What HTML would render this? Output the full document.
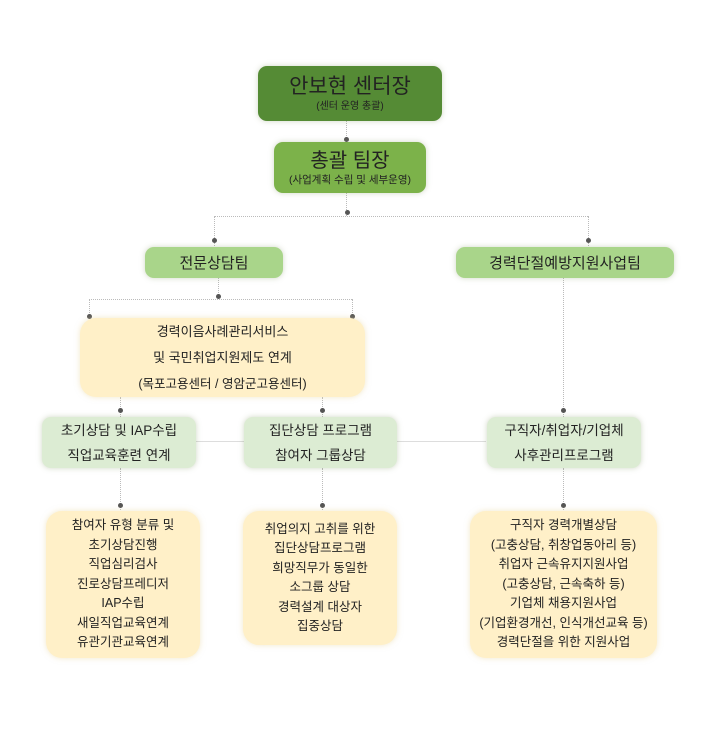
<!DOCTYPE html>
<html><head><meta charset="utf-8"><style>
body{margin:0;width:705px;height:730px;background:#fff;position:relative;overflow:hidden;font-family:"Liberation Sans","Noto Sans CJK KR",sans-serif;color:#222}
.b{position:absolute;box-sizing:border-box;display:flex;flex-direction:column;align-items:center;justify-content:center;text-align:center;border-radius:9px;box-shadow:0 0 6px rgba(120,140,90,.35)}
.y{background:#fff0c8;border-radius:16px;box-shadow:0 0 6px rgba(230,210,150,.5)}
.g{background:#dcecd3}
.l{position:absolute;border-color:#bbb;border-style:dotted;border-width:0}
.d{position:absolute;width:5px;height:5px;border-radius:50%;background:#555;margin:-2px 0 0 -2px}
</style></head><body>
<div class="l" style="left:346px;top:121px;height:21px;border-left-width:1px"></div>
<div class="l" style="left:346px;top:193px;height:23px;border-left-width:1px"></div>
<div class="l" style="left:214px;top:216px;width:374px;border-top-width:1px"></div>
<div class="l" style="left:214px;top:216px;height:30px;border-left-width:1px"></div>
<div class="l" style="left:588px;top:216px;height:30px;border-left-width:1px"></div>
<div class="l" style="left:218px;top:277px;height:22px;border-left-width:1px"></div>
<div class="l" style="left:89px;top:299px;width:263px;border-top-width:1px"></div>
<div class="l" style="left:89px;top:299px;height:18px;border-left-width:1px"></div>
<div class="l" style="left:352px;top:299px;height:18px;border-left-width:1px"></div>
<div class="l" style="left:120px;top:397px;height:20px;border-left-width:1px"></div>
<div class="l" style="left:322px;top:397px;height:20px;border-left-width:1px"></div>
<div class="l" style="left:563px;top:277px;height:140px;border-left-width:1px"></div>
<div style="position:absolute;left:195px;top:441px;width:291px;height:1px;background:#ddd"></div>
<div class="l" style="left:120px;top:468px;height:42px;border-left-width:1px"></div>
<div class="l" style="left:322px;top:468px;height:42px;border-left-width:1px"></div>
<div class="l" style="left:563px;top:468px;height:42px;border-left-width:1px"></div>
<div class="d" style="left:346px;top:139px"></div>
<div class="d" style="left:347px;top:212px"></div>
<div class="d" style="left:214px;top:240px"></div>
<div class="d" style="left:588px;top:240px"></div>
<div class="d" style="left:218px;top:296px"></div>
<div class="d" style="left:89px;top:316px"></div>
<div class="d" style="left:352px;top:316px"></div>
<div class="d" style="left:120px;top:410px"></div>
<div class="d" style="left:322px;top:410px"></div>
<div class="d" style="left:563px;top:410px"></div>
<div class="d" style="left:120px;top:505px"></div>
<div class="d" style="left:322px;top:505px"></div>
<div class="d" style="left:563px;top:505px"></div>

<div class="b" style="left:258px;top:66px;width:184px;height:55px;background:#558b35"><div style="font-size:21px;line-height:26px">안보현 센터장</div><div style="font-size:10px;line-height:14px">(센터 운영 총괄)</div></div>
<div class="b" style="left:274px;top:142px;width:152px;height:51px;background:#7cb24a"><div style="font-size:20px;line-height:24px">총괄 팀장</div><div style="font-size:10.5px;line-height:14px">(사업계획 수립 및 세부운영)</div></div>
<div class="b" style="left:145px;top:247px;width:138px;height:31px;background:#a9d58a;font-size:15px">전문상담팀</div>
<div class="b" style="left:456px;top:247px;width:218px;height:31px;background:#a9d58a;font-size:15px">경력단절예방지원사업팀</div>
<div class="b y" style="left:80px;top:318px;width:285px;height:79px;font-size:13px;line-height:26px"><div>경력이음사례관리서비스<br>및 국민취업지원제도 연계<br><span style="font-size:12.5px">(목포고용센터 / 영암군고용센터)</span></div></div>
<div class="b g" style="left:42px;top:417px;width:154px;height:51px;font-size:13.5px;line-height:25px"><div>초기상담 및 IAP수립<br>직업교육훈련 연계</div></div>
<div class="b g" style="left:244px;top:417px;width:153px;height:51px;font-size:13.5px;line-height:25px"><div>집단상담 프로그램<br>참여자 그룹상담</div></div>
<div class="b g" style="left:487px;top:417px;width:154px;height:51px;font-size:13.5px;line-height:25px"><div>구직자/취업자/기업체<br>사후관리프로그램</div></div>
<div class="b y" style="left:46px;top:511px;width:154px;height:147px;font-size:12.5px;line-height:19.5px"><div>참여자 유형 분류 및<br>초기상담진행<br>직업심리검사<br>진로상담프레디저<br>IAP수립<br>새일직업교육연계<br>유관기관교육연계</div></div>
<div class="b y" style="left:243px;top:511px;width:154px;height:134px;font-size:12.5px;line-height:19.5px"><div>취업의지 고취를 위한<br>집단상담프로그램<br>희망직무가 동일한<br>소그룹 상담<br>경력설계 대상자<br>집중상담</div></div>
<div class="b y" style="left:470px;top:511px;width:187px;height:147px;font-size:12.5px;line-height:19.5px"><div>구직자 경력개별상담<br>(고충상담, 취창업동아리 등)<br>취업자 근속유지지원사업<br>(고충상담, 근속축하 등)<br>기업체 채용지원사업<br>(기업환경개선, 인식개선교육 등)<br>경력단절을 위한 지원사업</div></div>
</body></html>
